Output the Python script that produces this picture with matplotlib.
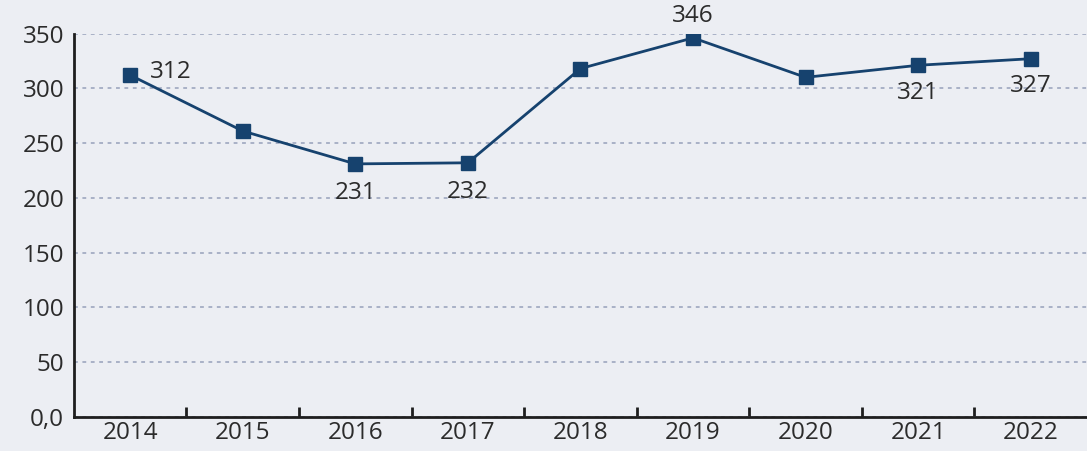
import matplotlib.pyplot as plt
from matplotlib.ticker import FixedLocator

# data
years = ["2014", "2015", "2016", "2017", "2018", "2019", "2020", "2021", "2022"]
values = [312, 261, 231, 232, 318, 346, 310, 321, 327]
# which points carry a label and where it sits (dx, dy in points, ha)
labelled = {0: (14, 2, "left"), 2: (0, -21, "center"), 3: (0, -21, "center"),
            5: (0, 16, "center"), 7: (0, -20, "center"), 8: (0, -20, "center")}

bg = "#eceef3"
navy = "#16426e"
plt.rcParams["font.family"] = ["Open Sans", "DejaVu Sans"]

fig = plt.figure(figsize=(10.87, 4.51), dpi=100, facecolor=bg)
ax = fig.add_axes([0.068, 0.0754, 0.932, 0.8503], facecolor=bg)

x = list(range(len(years)))
ax.plot(x, values, color=navy, lw=2, marker="s", ms=10, zorder=3)

for i, (dx, dy, ha) in labelled.items():
    ax.annotate(str(values[i]), (x[i], values[i]), xytext=(dx, dy),
                textcoords="offset points", ha=ha, va="center",
                fontsize=17.5, color="#2b2b2b")

ax.set_xlim(-0.5, len(years) - 0.5)
ax.set_ylim(0, 350)
ax.set_yticks(range(0, 351, 50))
ax.set_yticklabels(["0,0"] + [str(v) for v in range(50, 351, 50)])
ax.set_xticks(x)
ax.set_xticklabels(years)
ax.xaxis.set_minor_locator(FixedLocator([i + 0.5 for i in range(len(years) - 1)]))

ax.tick_params(axis="both", which="major", length=0, labelsize=17.5, labelcolor="#2b2b2b")
ax.tick_params(axis="y", pad=7)
ax.tick_params(axis="x", pad=3)
ax.tick_params(axis="x", which="minor", direction="in", length=7, width=2, color="#1e1e1e")

ax.grid(axis="y", color="#97a1ba", lw=1.1, linestyle=(0, (2.5, 3)))
ax.set_axisbelow(True)
for s in ["top", "right"]:
    ax.spines[s].set_visible(False)
for s in ["left", "bottom"]:
    ax.spines[s].set_linewidth(2)
    ax.spines[s].set_color("#1e1e1e")

fig.savefig("out.png", dpi=100, facecolor=bg)
